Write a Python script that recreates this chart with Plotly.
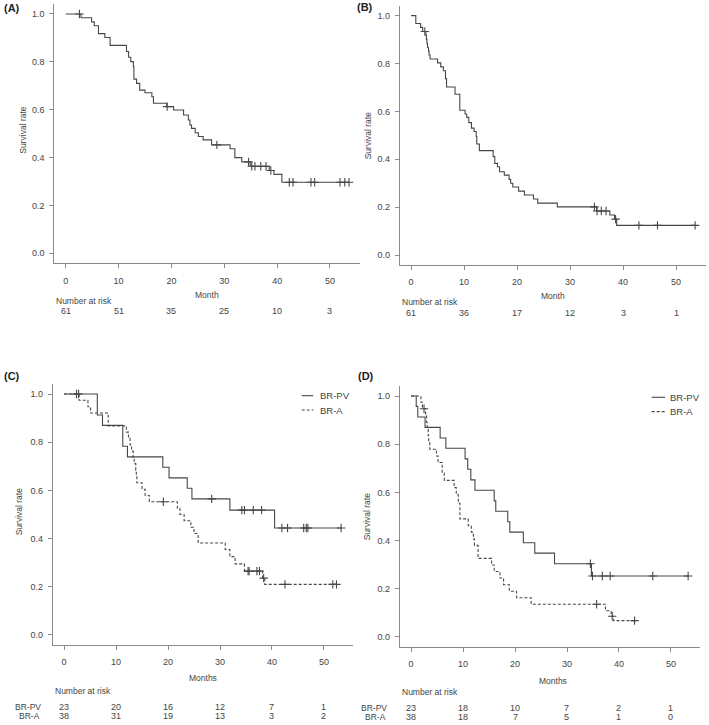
import plotly.graph_objects as go

W, H = 709, 725

# ---- data ----
# (A) all patients, first curve
a_time = [0, 2.9, 4.9, 5.4, 6.2, 7.4, 8.4, 11.5, 11.9, 12.3, 12.8, 12.9, 13.4, 14.0, 15.0,
          16.3, 16.6, 19.1, 20.4, 22.3, 23.2, 23.5, 23.8, 24.5, 25.1, 26.0, 27.6, 31.1,
          32.0, 33.3, 34.9, 38.5, 39.4, 40.9]
a_surv = [1.0, 0.984, 0.967, 0.951, 0.918, 0.902, 0.869, 0.843, 0.819, 0.801, 0.780, 0.728,
          0.710, 0.682, 0.671, 0.654, 0.627, 0.613, 0.599, 0.578, 0.557, 0.536, 0.522, 0.504,
          0.488, 0.474, 0.453, 0.437, 0.400, 0.382, 0.364, 0.346, 0.330, 0.297]
a_cens = [2.6, 19.2, 28.6, 34.6, 35.2, 35.8, 36.9, 37.9, 38.8, 42.3, 43.0, 46.4, 47.1, 51.9, 52.8, 53.6]
a_risk = [61, 51, 35, 25, 10, 3]

# (B) all patients, second curve
b_time = [0, 0.9, 1.8, 2.2, 2.8, 2.9, 3.0, 3.1, 3.3, 3.4, 3.6, 5.0, 5.6, 6.1, 6.5, 6.7, 8.3,
          9.2, 10.2, 10.5, 10.9, 11.4, 11.9, 12.3, 12.4, 12.9, 15.5, 15.8, 16.3, 16.7, 17.6,
          18.5, 18.8, 19.2, 20.3, 21.4, 23.1, 23.9, 27.6, 35.0, 37.5, 38.4, 38.8]
b_surv = [1.0, 0.967, 0.951, 0.934, 0.918, 0.901, 0.885, 0.868, 0.852, 0.836, 0.819, 0.803,
          0.786, 0.770, 0.737, 0.702, 0.672, 0.605, 0.589, 0.575, 0.553, 0.530, 0.516, 0.495,
          0.464, 0.436, 0.411, 0.383, 0.369, 0.348, 0.334, 0.316, 0.300, 0.284, 0.267, 0.251,
          0.234, 0.217, 0.201, 0.184, 0.167, 0.150, 0.124]
b_cens = [2.6, 34.6, 35.1, 35.9, 36.8, 38.6, 43.0, 46.5, 53.6]
b_risk = [61, 36, 17, 12, 3, 1]

# (C) by regimen, first endpoint
c_pv_time = [0, 6.4, 7.4, 11.3, 12.2, 19.0, 20.2, 23.7, 24.6, 31.9, 40.5]
c_pv_surv = [1.0, 0.913, 0.870, 0.783, 0.739, 0.696, 0.652, 0.609, 0.565, 0.518, 0.444]
c_pv_cens = [2.4, 2.8, 28.4, 34.2, 34.7, 36.4, 38.0, 41.9, 43.0, 46.1, 46.6, 46.9, 53.3]
c_a_time = [0, 2.9, 4.6, 5.1, 8.5, 12.0, 12.4, 12.7, 13.0, 13.3, 13.5, 13.8, 13.9, 14.0, 15.0,
            15.6, 16.4, 21.8, 22.3, 23.1, 24.4, 25.0, 25.8, 31.0, 31.9, 32.9, 34.7, 38.2, 38.6]
c_a_surv = [1.0, 0.974, 0.947, 0.921, 0.868, 0.842, 0.816, 0.789, 0.763, 0.737, 0.711, 0.684,
            0.658, 0.632, 0.605, 0.579, 0.553, 0.526, 0.500, 0.474, 0.447, 0.421, 0.382,
            0.355, 0.325, 0.295, 0.265, 0.236, 0.210]
c_a_cens = [19.1, 35.4, 35.6, 37.1, 37.6, 38.4, 42.5, 51.7, 52.4]
c_risk_pv = [23, 20, 16, 12, 7, 1]
c_risk_a = [38, 31, 19, 13, 3, 2]

# (D) by regimen, second endpoint
d_pv_time = [0, 1.0, 1.3, 2.7, 5.6, 6.7, 10.4, 10.9, 11.5, 12.3, 16.0, 16.3, 18.6, 19.0,
             21.6, 23.8, 27.6, 34.7]
d_pv_surv = [1.0, 0.957, 0.913, 0.870, 0.826, 0.783, 0.739, 0.696, 0.652, 0.609, 0.565,
             0.522, 0.478, 0.435, 0.391, 0.348, 0.304, 0.253]
d_pv_cens = [34.5, 34.9, 36.8, 38.3, 46.5, 53.3]
d_a_time = [0, 1.9, 2.2, 2.8, 3.0, 3.1, 3.3, 3.4, 3.6, 4.9, 5.2, 6.0, 6.4, 8.3, 8.7, 9.1, 9.4,
            11.0, 11.6, 12.0, 12.2, 12.9, 15.5, 16.0, 17.1, 17.8, 18.9, 20.3, 23.1, 37.4,
            38.5, 38.9]
d_a_surv = [1.0, 0.974, 0.947, 0.918, 0.890, 0.862, 0.835, 0.807, 0.779, 0.751, 0.724, 0.680,
            0.650, 0.620, 0.590, 0.555, 0.490, 0.462, 0.435, 0.407, 0.380, 0.326, 0.299,
            0.272, 0.245, 0.217, 0.190, 0.163, 0.136, 0.109, 0.086, 0.068]
d_a_cens = [2.5, 35.7, 38.7, 43.0]
d_risk_pv = [23, 18, 10, 7, 2, 1]
d_risk_a = [38, 18, 7, 5, 1, 0]

x_ticks = [0, 10, 20, 30, 40, 50]
y_ticks = [0.0, 0.2, 0.4, 0.6, 0.8, 1.0]

# ---- style ----
FONT = "Liberation Sans, Arial, sans-serif"
CURVE = "#474747"
AXIS = "#8a8a8a"
TEXT = "#444444"
X_RANGE = [-2.14, 55.64]
Y_RANGE = [-0.04, 1.04]


def fx(px):
    return px / W


def fy(py):
    return 1 - py / H


def surv_at(times, surv, t):
    val = surv[0]
    for ti, si in zip(times, surv):
        if ti <= t:
            val = si
    return val


# panel boxes in pixels: left, right, top, bottom
panels = {
    "A": (54.4, 359.8, 4.4, 262.9),
    "B": (399.7, 705.9, 6.1, 264.6),
    "C": (52.9, 353.3, 384.4, 644.6),
    "D": (399.9, 700.3, 386.4, 646.6),
}

fig = go.Figure()

curves = [
    (1, a_time, a_surv, a_cens, "solid"),
    (2, b_time, b_surv, b_cens, "solid"),
    (3, c_pv_time, c_pv_surv, c_pv_cens, "solid"),
    (3, c_a_time, c_a_surv, c_a_cens, "3px,2px"),
    (4, d_pv_time, d_pv_surv, d_pv_cens, "solid"),
    (4, d_a_time, d_a_surv, d_a_cens, "3px,2px"),
]

for idx, times, surv, cens, dash in curves:
    xa = "x" if idx == 1 else f"x{idx}"
    ya = "y" if idx == 1 else f"y{idx}"
    end = max(max(cens), times[-1])
    fig.add_trace(go.Scatter(
        x=times + [end], y=surv + [surv[-1]], mode="lines",
        line=dict(color=CURVE, width=1.1, shape="hv", dash=dash),
        xaxis=xa, yaxis=ya, showlegend=False, hoverinfo="skip"))
    fig.add_trace(go.Scatter(
        x=cens, y=[surv_at(times, surv, c) for c in cens], mode="markers",
        marker=dict(symbol="cross-thin", size=6, line=dict(color=CURVE, width=1.1)),
        xaxis=xa, yaxis=ya, showlegend=False, hoverinfo="skip"))

axis_common = dict(showgrid=False, zeroline=False, showline=True, linecolor=AXIS,
                   linewidth=1, ticks="outside", ticklen=4, tickcolor=AXIS, tickwidth=1,
                   tickfont=dict(family=FONT, size=9, color=TEXT))

layout = {}
for i, key in enumerate(["A", "B", "C", "D"], start=1):
    l, r, t, b = panels[key]
    sfx = "" if i == 1 else str(i)
    layout["xaxis" + sfx] = dict(axis_common, domain=[fx(l), fx(r)], range=X_RANGE,
                                  tickvals=x_ticks, anchor="y" + sfx, ticklabelstandoff=5)
    layout["yaxis" + sfx] = dict(axis_common, domain=[fy(b), fy(t)], range=Y_RANGE,
                                  tickvals=y_ticks, tickformat=".1f", anchor="x" + sfx,
                                  ticklabelstandoff=3)

ann = []


def text(x, y, s, size=8.5, anchor="center", bold=False, angle=0, xref="paper"):
    ann.append(dict(x=x if xref != "paper" else fx(x), y=fy(y), xref=xref, yref="paper",
                    text=f"<b>{s}</b>" if bold else s, showarrow=False,
                    xanchor=anchor, yanchor="middle", textangle=angle,
                    font=dict(family=FONT, size=size, color="#222222" if bold else TEXT)))


# panel tags
text(2, 8, "(A)", size=11, anchor="left", bold=True)
text(355, 7, "(B)", size=11, anchor="left", bold=True)
text(2, 376, "(C)", size=11, anchor="left", bold=True)
text(356, 376, "(D)", size=11, anchor="left", bold=True)

# y titles
text(22.7, 130, "Survival rate", angle=-90)
text(368.3, 135, "Survival rate", angle=-90)
text(19.3, 511, "Survival rate", angle=-90)
text(367.3, 516, "Survival rate", angle=-90)

# x titles
text(207, 295, "Month")
text(553, 296, "Month")
text(203, 678, "Months")
text(552.7, 680.7, "Months")

# number at risk
text(54, 300.5, "Number at risk", anchor="left")
text(400, 302, "Number at risk", anchor="left")
text(53, 690.5, "Number at risk", anchor="left")
text(400, 691.7, "Number at risk", anchor="left")

for xv, n in zip(x_ticks, a_risk):
    text(xv, 311, str(n), size=9, xref="x")
for xv, n in zip(x_ticks, b_risk):
    text(xv, 312.5, str(n), size=9, xref="x2")
for xv, n in zip(x_ticks, c_risk_pv):
    text(xv, 706.5, str(n), size=9, xref="x3")
for xv, n in zip(x_ticks, c_risk_a):
    text(xv, 715.5, str(n), size=9, xref="x3")
for xv, n in zip(x_ticks, d_risk_pv):
    text(xv, 708, str(n), size=9, xref="x4")
for xv, n in zip(x_ticks, d_risk_a):
    text(xv, 717, str(n), size=9, xref="x4")

text(42.7, 706.5, "BR-PV", size=8.5, anchor="right")
text(41.7, 715.5, "BR-A", size=8.5, anchor="right")
text(389.3, 708, "BR-PV", size=8.5, anchor="right")
text(388.3, 717, "BR-A", size=8.5, anchor="right")

# legends for C and D
shapes = []
legend_items = [("BR-PV", "solid"), ("BR-A", "3px,2px")]
for x0, x1, xt, y0 in [(301.7, 313.3, 318.3, 395.7), (651.7, 665.0, 667.5, 397.3)]:
    for k, (name, dash) in enumerate(legend_items):
        yy = y0 + k * 14.3
        shapes.append(dict(type="line", xref="paper", yref="paper", x0=fx(x0), x1=fx(x1),
                           y0=fy(yy), y1=fy(yy), line=dict(color=CURVE, width=1.1, dash=dash)))
        text(xt, yy, name, size=9.5, anchor="left")

fig.update_layout(
    width=W, height=H, margin=dict(l=0, r=0, t=0, b=0),
    paper_bgcolor="white", plot_bgcolor="white",
    annotations=ann, shapes=shapes, showlegend=False,
    **layout)

# the page's default 8px body margin would push the figure off the window
fig.write_html("out.html", config={"displayModeBar": False},
               post_script="document.body.style.margin='0px';")
